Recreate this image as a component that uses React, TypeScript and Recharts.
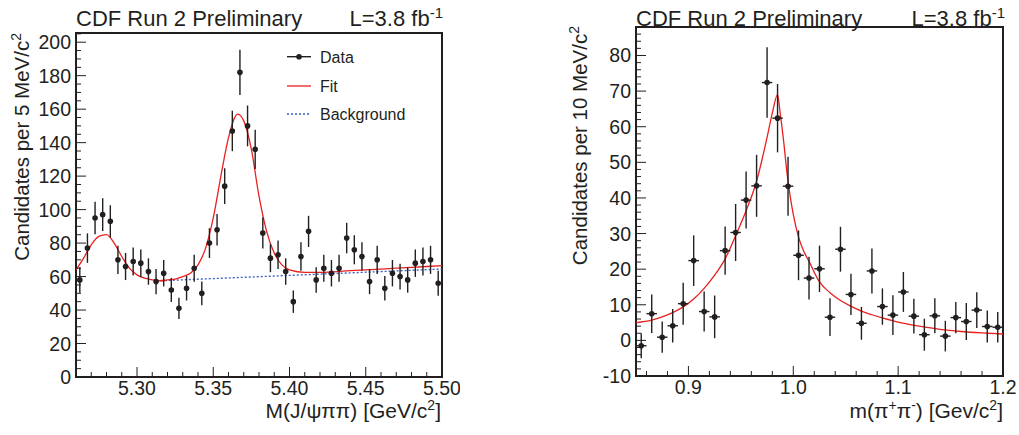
import React from 'react';
import { ComposedChart, Scatter, Line, XAxis, YAxis, ErrorBar, ReferenceArea } from 'recharts';

const FONT = '"Liberation Sans", Arial, Helvetica, sans-serif';
const INK = '#231f20';
const FIT_RED = '#e8211f';
const BKG_BLUE = '#3a5cc0';

// Left panel: M(J/psi pi pi), 5 MeV bins from 5.26
const leftBinLow = 5.26;
const leftBinWidth = 0.005;
const leftCounts = [
  58, 77, 95, 97, 93, 70, 66, 69, 68, 63, 57, 62, 52, 41, 53, 65, 50, 80, 88, 114, 147, 182, 150, 136,
  86, 71, 73, 63, 45, 72, 87, 58, 65, 62, 65, 83, 76, 72, 57, 70, 53, 62, 60, 58, 68, 69, 70, 56,
];
const leftErrors = [
  7.6, 8.8, 9.7, 9.8, 9.6, 8.4, 8.1, 8.3, 8.2, 7.9, 7.5, 7.9, 7.2, 6.4, 7.3, 8.1, 7.1, 8.9, 9.4, 10.7, 12.1, 13.5, 12.2, 11.7,
  9.3, 8.4, 8.5, 7.9, 6.7, 8.5, 9.3, 7.6, 8.1, 7.9, 8.1, 9.1, 8.7, 8.5, 7.5, 8.4, 7.3, 7.9, 7.7, 7.6, 8.2, 8.3, 8.4, 7.5,
];
const leftFitX = [
  5.26, 5.265, 5.27, 5.275, 5.28, 5.285, 5.29, 5.295, 5.3, 5.305, 5.31, 5.315, 5.32, 5.325, 5.33, 5.335, 5.34,
  5.345, 5.35, 5.355, 5.36, 5.366, 5.37, 5.375, 5.38, 5.385, 5.39, 5.395, 5.4, 5.41, 5.42, 5.44, 5.46, 5.48, 5.5,
];
const leftFitY = [
  64, 71, 79, 84, 85, 80, 72, 65, 61, 59, 58, 57.5, 58, 58.5, 60, 62, 67,
  77, 95, 120, 143, 157, 153, 136, 108, 87, 74, 67, 64, 62.5, 62.5, 63.5, 64.5, 65.5, 66.5,
];
const leftBkgX = [5.313, 5.5];
const leftBkgY = [57.4, 64.5];
const leftXMajor = [5.3, 5.35, 5.4, 5.45, 5.5];
const leftYMajor = [0, 20, 40, 60, 80, 100, 120, 140, 160, 180, 200];

// Right panel: m(pi+ pi-), 10 MeV bins from 0.85
const rightBinLow = 0.85;
const rightBinWidth = 0.01;
const rightCounts = [
  -1.5, 7.5, 0.9, 4.1, 10.3, 22.4, 8.1, 6.6, 25.2, 30.3, 39.4, 43.4, 72.4, 62.4, 43.3, 23.9, 17.5, 20.1,
  6.5, 25.6, 12.9, 4.8, 19.5, 9.5, 7.1, 13.6, 6.8, 1.6, 6.9, 1.2, 6.4, 5.3, 8.5, 3.9, 3.7,
];
const rightErrors = [
  3.5, 5.4, 4.4, 4.7, 5.9, 7.1, 5.6, 6.0, 6.8, 8.0, 8.0, 8.7, 9.9, 9.6, 8.3, 7.0, 6.0, 6.5,
  5.3, 6.3, 5.8, 4.6, 6.3, 5.1, 5.6, 5.6, 4.9, 4.5, 4.9, 4.3, 4.4, 5.2, 5.0, 4.5, 4.3,
];
const rightFitX = [
  0.85, 0.865, 0.875, 0.885, 0.895, 0.905, 0.915, 0.925, 0.935, 0.945, 0.955, 0.965, 0.975, 0.98, 0.985,
  0.9875, 0.991, 0.994, 0.997, 1.0, 1.005, 1.01, 1.015, 1.025, 1.035, 1.045, 1.055, 1.065, 1.075, 1.085,
  1.1, 1.12, 1.14, 1.16, 1.18, 1.2,
];
const rightFitY = [
  5.0, 5.7, 6.6, 7.8, 9.4, 11.6, 14.6, 18.3, 22.9, 29.4, 36.4, 44.7, 57, 63.8, 69,
  63.8, 55.4, 47, 40.5, 35.4, 29.0, 25.0, 22.2, 16.4, 13.4, 11.2, 9.6, 8.2, 7.2, 6.3,
  5.1, 4.0, 3.1, 2.5, 2.1, 1.8,
];
const rightXMajor = [0.9, 1.0, 1.1, 1.2];
const rightYMajor = [-10, 0, 10, 20, 30, 40, 50, 60, 70, 80];

const leftPoints = leftCounts.map((y, i) => ({
  x: leftBinLow + leftBinWidth * (i + 0.5), y, err: leftErrors[i],
}));
const leftFit = leftFitX.map((x, i) => ({ x, y: leftFitY[i] }));
const leftBkg = leftBkgX.map((x, i) => ({ x, y: leftBkgY[i] }));

const rightPoints = rightCounts.map((y, i) => ({
  x: rightBinLow + rightBinWidth * (i + 0.5), y, err: rightErrors[i], xerr: rightBinWidth / 2,
}));
const rightFit = rightFitX.map((x, i) => ({ x, y: rightFitY[i] }));

// tick lists (minor + major), ROOT style
const range = (from: number, to: number, step: number) => {
  const out: number[] = [];
  for (let i = from; i <= to; i += step) out.push(i);
  return out;
};
const leftXTicks = range(527, 550, 1).map((v) => v / 100);
const leftYTicks = range(0, 205, 5);
const rightXTicks = range(43, 60, 1).map((v) => v / 50);
const rightYTicks = range(-10, 88, 2);

const isMajor = (majors: number[], v: number) => majors.some((m) => Math.abs(m - v) < 1e-6);

const makeXTick = (majors: number[], bottom: number, digits: number) => (props: any) => {
  const { x, payload } = props;
  const v = payload.value;
  const major = isMajor(majors, v);
  return (
    <g>
      <line x1={x} x2={x} y1={bottom} y2={bottom - (major ? 10 : 5)} stroke={INK} strokeWidth={1} />
      {major && (
        <text x={x} y={bottom + 18} textAnchor="middle" fontSize={19.5} fill={INK} fontFamily={FONT}>
          {v.toFixed(digits)}
        </text>
      )}
    </g>
  );
};

const makeYTick = (majors: number[], left: number) => (props: any) => {
  const { y, payload } = props;
  const v = payload.value;
  const major = isMajor(majors, v);
  return (
    <g>
      <line x1={left} x2={left + (major ? 10 : 5)} y1={y} y2={y} stroke={INK} strokeWidth={1} />
      {major && (
        <text x={left - 5} y={y + 7} textAnchor="end" fontSize={19.5} fill={INK} fontFamily={FONT}>
          {v}
        </text>
      )}
    </g>
  );
};

const Dot = (props: any) => <circle cx={props.cx} cy={props.cy} r={2.8} fill={INK} />;

const LeftPanel = () => (
  <ComposedChart width={460} height={435} margin={{ top: 33, right: 18, bottom: 28, left: 16 }}>
    <XAxis
      type="number"
      dataKey="x"
      domain={[5.26, 5.5]}
      allowDataOverflow
      ticks={leftXTicks}
      interval={0}
      axisLine={false}
      tickLine={false}
      height={30}
      tick={makeXTick(leftXMajor, 377, 2)}
    />
    <YAxis
      type="number"
      dataKey="y"
      domain={[0, 205.5]}
      allowDataOverflow
      ticks={leftYTicks}
      interval={0}
      axisLine={false}
      tickLine={false}
      width={60}
      tick={makeYTick(leftYMajor, 76)}
    />
    <Line data={leftBkg} dataKey="y" type="linear" dot={false} stroke={BKG_BLUE} strokeWidth={1.3} strokeDasharray="2 2" isAnimationActive={false} />
    <Line data={leftFit} dataKey="y" type="monotone" dot={false} stroke={FIT_RED} strokeWidth={1.3} isAnimationActive={false} />
    <Scatter data={leftPoints} dataKey="y" shape={<Dot />} isAnimationActive={false}>
      <ErrorBar dataKey="err" direction="y" width={0} stroke={INK} strokeWidth={1.4} />
    </Scatter>
    <ReferenceArea x1={5.26} x2={5.5} y1={0} y2={205.5} fill="none" fillOpacity={0} stroke={INK} strokeWidth={2} />
  </ComposedChart>
);

const RightPanel = () => (
  <ComposedChart width={459} height={435} margin={{ top: 27, right: 16, bottom: 29, left: 16 }}>
    <XAxis
      type="number"
      dataKey="x"
      domain={[0.85, 1.2]}
      allowDataOverflow
      ticks={rightXTicks}
      interval={0}
      axisLine={false}
      tickLine={false}
      height={30}
      tick={makeXTick(rightXMajor, 376, 1)}
    />
    <YAxis
      type="number"
      dataKey="y"
      domain={[-10, 88]}
      allowDataOverflow
      ticks={rightYTicks}
      interval={0}
      axisLine={false}
      tickLine={false}
      width={60}
      tick={makeYTick(rightYMajor, 76)}
    />
    <Line data={rightFit} dataKey="y" type="monotone" dot={false} stroke={FIT_RED} strokeWidth={1.3} isAnimationActive={false} />
    <Scatter data={rightPoints} dataKey="y" shape={<Dot />} isAnimationActive={false}>
      <ErrorBar dataKey="err" direction="y" width={0} stroke={INK} strokeWidth={1.4} />
      <ErrorBar dataKey="xerr" direction="x" width={0} stroke={INK} strokeWidth={1.4} />
    </Scatter>
    <ReferenceArea x1={0.85} x2={1.2} y1={-10} y2={88} fill="none" fillOpacity={0} stroke={INK} strokeWidth={2} />
  </ComposedChart>
);

const Sup = ({ children, size = 14 }: { children: React.ReactNode; size?: number }) => (
  <tspan dy={-8} fontSize={size}>{children}</tspan>
);

const Overlay = () => (
  <svg
    width={1019}
    height={435}
    style={{ position: 'absolute', left: 0, top: 0, pointerEvents: 'none' }}
    fontFamily={FONT}
    fill={INK}
  >
    {/* titles */}
    <text x={76} y={26} fontSize={22}>CDF Run 2 Preliminary</text>
    <text x={443} y={26} fontSize={22} textAnchor="end">L=3.8 fb<Sup size={15}>-1</Sup></text>
    <text x={636} y={26} fontSize={22}>CDF Run 2 Preliminary</text>
    <text x={1005} y={26} fontSize={22} textAnchor="end">L=3.8 fb<Sup size={15}>-1</Sup></text>

    {/* axis titles */}
    <text transform="translate(28.5,33) rotate(-90)" textAnchor="end" fontSize={20.5}>
      Candidates per 5 MeV/c<Sup>2</Sup>
    </text>
    <text transform="translate(587,26) rotate(-90)" textAnchor="end" fontSize={20.5}>
      Candidates per 10 MeV/c<Sup>2</Sup>
    </text>
    <text x={441} y={418} textAnchor="end" fontSize={21}>
      M(J/ψππ) [GeV/c<Sup>2</Sup><tspan dy={8}>]</tspan>
    </text>
    <text x={1003} y={418} textAnchor="end" fontSize={21}>
      m(π<Sup>+</Sup><tspan dy={8}>π</tspan><Sup>-</Sup><tspan dy={8}>) [Gev/c</tspan><Sup>2</Sup><tspan dy={8}>]</tspan>
    </text>

    {/* legend */}
    <line x1={287} x2={311} y1={56.7} y2={56.7} stroke={INK} strokeWidth={1.4} />
    <circle cx={299} cy={56.7} r={2.8} fill={INK} />
    <text x={320} y={62.5} fontSize={16}>Data</text>
    <line x1={287} x2={311} y1={86} y2={86} stroke={FIT_RED} strokeWidth={1.3} />
    <text x={320} y={91.8} fontSize={16}>Fit</text>
    <line x1={287} x2={311} y1={114} y2={114} stroke={BKG_BLUE} strokeWidth={1.3} strokeDasharray="2 2" />
    <text x={320} y={119.8} fontSize={16}>Background</text>
  </svg>
);

export default function App() {
  return (
    <div style={{ position: 'absolute', left: 0, top: 0, width: 1019, height: 435, background: '#fff', fontFamily: FONT }}>
      <div style={{ position: 'absolute', left: 0, top: 0 }}>
        <LeftPanel />
      </div>
      <div style={{ position: 'absolute', left: 560, top: 0 }}>
        <RightPanel />
      </div>
      <Overlay />
    </div>
  );
}
